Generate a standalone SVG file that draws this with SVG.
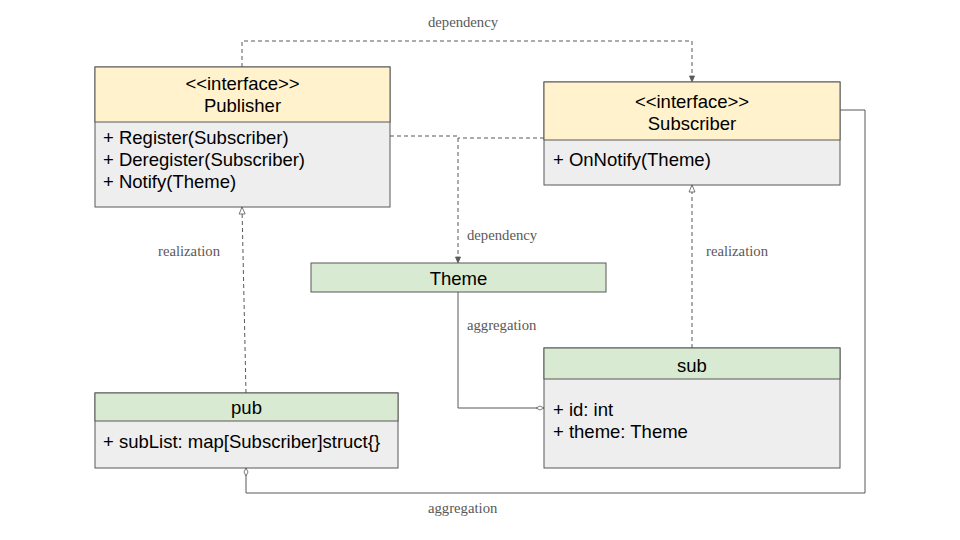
<svg xmlns="http://www.w3.org/2000/svg" width="960" height="540" viewBox="0 0 960 540">
<style>
.hdrY{fill:#fff2cc;stroke:#595959;stroke-width:1}
.hdrG{fill:#d9ead3;stroke:#595959;stroke-width:1}
.body{fill:#eeeeee;stroke:#595959;stroke-width:1}
.t{font-family:"Liberation Sans",Arial,sans-serif;font-size:18.5px;fill:#000}
.c{text-anchor:middle}
.lbl{font-family:"Liberation Serif","Times New Roman",serif;font-size:14.7px;fill:#595959}
.ln{fill:none;stroke:#595959;stroke-width:1}
.dash{stroke-dasharray:4 3}
</style>
<defs>
<marker id="dep" markerWidth="8" markerHeight="8" refX="7" refY="4" orient="auto" markerUnits="userSpaceOnUse">
<path d="M1,1.5 L7,4 L1,6.5 Z" fill="#595959" stroke="#595959" stroke-width="0.8"/>
</marker>
<marker id="real" markerWidth="10" markerHeight="10" refX="8" refY="5" orient="auto" markerUnits="userSpaceOnUse">
<path d="M1,2 L8,5 L1,8 Z" fill="#ffffff" stroke="#595959" stroke-width="0.8"/>
</marker>
<marker id="agg" markerWidth="10" markerHeight="8" refX="9" refY="4" orient="auto" markerUnits="userSpaceOnUse">
<path d="M1,4 L5,2 L9,4 L5,6 Z" fill="#ffffff" stroke="#595959" stroke-width="0.8"/>
</marker>
</defs>

<g id="connectors">
<path class="ln dash" d="M242,67 V41 H692 V82" marker-end="url(#dep)"/>
<text class="lbl c" x="463" y="27">dependency</text>
<path class="ln dash" d="M390,136 H458 V263" marker-end="url(#dep)"/>
<path class="ln dash" d="M544,138 H458"/>
<text class="lbl" x="467" y="240">dependency</text>
<path class="ln dash" d="M246,393 L242,207" marker-end="url(#real)"/>
<text class="lbl" x="158" y="256">realization</text>
<path class="ln dash" d="M692,348 V185" marker-end="url(#real)"/>
<text class="lbl" x="706" y="256">realization</text>
<path class="ln" d="M458,292 V408 H544" marker-end="url(#agg)"/>
<text class="lbl" x="467" y="330">aggregation</text>
<path class="ln" d="M840,110 H865 V493 H246 V468" marker-end="url(#agg)"/>
<text class="lbl" x="428" y="513">aggregation</text>
</g>

<g id="Publisher">
<rect class="body" x="95" y="67" width="295" height="140"/>
<rect class="hdrY" x="95" y="67" width="295" height="55"/>
<text class="t c" x="242.5" y="90">&lt;&lt;interface&gt;&gt;</text>
<text class="t c" x="242.5" y="112">Publisher</text>
<text class="t" x="103" y="144">+ Register(Subscriber)</text>
<text class="t" x="103" y="166">+ Deregister(Subscriber)</text>
<text class="t" x="103" y="188">+ Notify(Theme)</text>
</g>

<g id="Subscriber">
<rect class="body" x="544" y="82" width="296" height="103"/>
<rect class="hdrY" x="544" y="82" width="296" height="58"/>
<text class="t c" x="692" y="108">&lt;&lt;interface&gt;&gt;</text>
<text class="t c" x="692" y="130">Subscriber</text>
<text class="t" x="553" y="166">+ OnNotify(Theme)</text>
</g>

<g id="Theme">
<rect class="hdrG" x="311" y="263" width="295" height="29"/>
<text class="t c" x="458.5" y="285">Theme</text>
</g>

<g id="sub">
<rect class="body" x="544" y="348" width="296" height="120"/>
<rect class="hdrG" x="544" y="348" width="296" height="31"/>
<text class="t c" x="692" y="372">sub</text>
<text class="t" x="553" y="416">+ id: int</text>
<text class="t" x="553" y="438">+ theme: Theme</text>
</g>

<g id="pub">
<rect class="body" x="95" y="393" width="303" height="75"/>
<rect class="hdrG" x="95" y="393" width="303" height="28"/>
<text class="t c" x="246.5" y="414">pub</text>
<text class="t" x="103" y="448">+ subList: map[Subscriber]struct{}</text>
</g>
</svg>
